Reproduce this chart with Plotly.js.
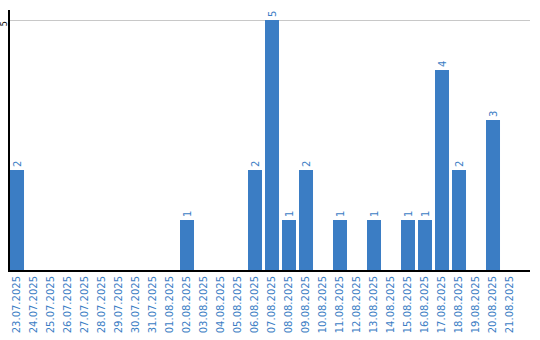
<!DOCTYPE html>
<html>
<head>
<meta charset="utf-8">
<script src="https://cdn.plot.ly/plotly-3.0.1.min.js"></script>
<style>html,body{margin:0;padding:0;background:#fff;}#chart{width:540px;height:340px;}</style>
</head>
<body>
<div id="chart"></div>
<script>
const categories = ["23.07.2025","24.07.2025","25.07.2025","26.07.2025","27.07.2025","28.07.2025","29.07.2025","30.07.2025","31.07.2025","01.08.2025","02.08.2025","03.08.2025","04.08.2025","05.08.2025","06.08.2025","07.08.2025","08.08.2025","09.08.2025","10.08.2025","11.08.2025","12.08.2025","13.08.2025","14.08.2025","15.08.2025","16.08.2025","17.08.2025","18.08.2025","19.08.2025","20.08.2025","21.08.2025"];
const values = [2,0,0,0,0,0,0,0,0,0,1,0,0,0,2,5,1,2,0,1,0,1,0,1,1,4,2,0,3,0];
const yTickVals = [5];

const blue = "#3b7dc4";
const labels = values.map(v => v > 0 ? String(v) : "");

Plotly.newPlot("chart", [{
  type: "bar",
  x: categories,
  y: values,
  text: labels,
  textposition: "outside",
  textangle: -90,
  cliponaxis: false,
  textfont: {family: "DejaVu Sans", size: 10, color: blue},
  marker: {color: blue},
  hoverinfo: "none"
}], {
  width: 540, height: 340,
  margin: {l: 10, r: 10, t: 10, b: 70},
  paper_bgcolor: "#fff", plot_bgcolor: "#fff",
  bargap: 0.176,
  showlegend: false,
  font: {family: "DejaVu Sans"},
  xaxis: {
    type: "category",
    range: [-0.412, 30.176],
    tickangle: -90,
    tickfont: {family: "DejaVu Sans", size: 10, color: blue},
    showgrid: false,
    showline: true, linecolor: "#000", linewidth: 2,
    ticks: "", zeroline: false
  },
  yaxis: {
    range: [0, 5.2],
    tickvals: yTickVals,
    ticktext: yTickVals.map(String),
    tickangle: -90,
    tickfont: {family: "DejaVu Sans", size: 8, color: "#000"},
    ticklabelstandoff: -2,
    ticklabelshift: 5,
    showgrid: true, gridcolor: "#c8c8c8", gridwidth: 1,
    showline: true, linecolor: "#000", linewidth: 2,
    ticks: "", zeroline: false,
    automargin: false
  }
}, {staticPlot: true});
</script>
</body>
</html>
